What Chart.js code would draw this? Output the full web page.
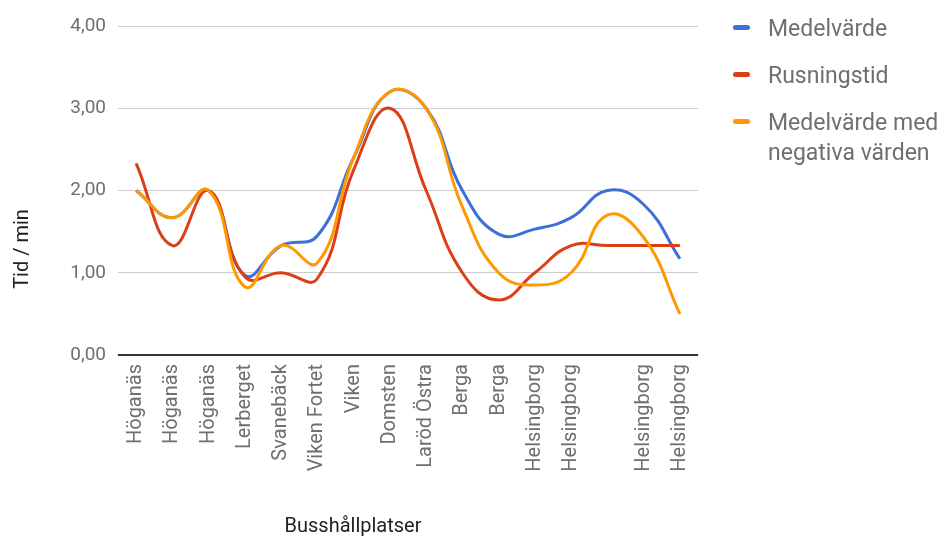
<!DOCTYPE html>
<html><head><meta charset="utf-8">
<script src="https://cdn.jsdelivr.net/npm/chart.js@4"></script>
<style>
html,body{margin:0;padding:0;background:#fff;overflow:hidden;}
#wrap{position:relative;width:947px;height:539px;overflow:hidden;font-family:Roboto,"Noto Sans",sans-serif;}
canvas{position:absolute;left:0;top:0;}
.leg{position:absolute;left:733px;font-size:23px;color:#6f6f6f;line-height:30px;}
.leg .m{position:absolute;left:0;width:17px;height:5px;border-radius:3px;}
.leg .t{position:absolute;left:35px;white-space:nowrap;}
</style></head>
<body><div id="wrap"><canvas id="c" width="947" height="539"></canvas>
<div class="leg" style="top:14px"><div class="m" style="top:11px;background:#3c70d6"></div><div class="t">Medelvärde</div></div>
<div class="leg" style="top:61px"><div class="m" style="top:11px;background:#dc3f17"></div><div class="t">Rusningstid</div></div>
<div class="leg" style="top:108px"><div class="m" style="top:11px;background:#ff9900"></div><div class="t">Medelvärde med<br>negativa värden</div></div>
</div>
<script>
const categories = ["Höganäs","Höganäs","Höganäs","Lerberget","Svanebäck","Viken Fortet","Viken","Domsten","Laröd Östra","Berga","Berga","Helsingborg","Helsingborg","","Helsingborg","Helsingborg"];
const medelvarde = [2.0,1.67,2.0,0.97,1.33,1.45,2.4,3.2,3.0,2.0,1.47,1.53,1.67,2.0,1.83,1.17];
const rusningstid = [2.33,1.33,2.0,0.95,1.0,0.93,2.25,3.0,2.0,1.0,0.67,1.0,1.33,1.33,1.33,1.33];
const medelNegativa = [2.0,1.67,2.0,0.83,1.33,1.12,2.4,3.2,3.0,1.8,1.0,0.85,1.0,1.7,1.43,0.5];
const yTicks = [0,1,2,3,4];
const xTitle = "Busshållplatser";
const yTitle = "Tid / min";

const titles = {
  id:'titles',
  afterDraw(chart){
    const ctx = chart.ctx;
    ctx.save();
    ctx.fillStyle = '#222';
    ctx.font = '20px Roboto';
    ctx.textAlign = 'center';
    ctx.textBaseline = 'middle';
    ctx.fillText(xTitle, 353, 527);
    ctx.translate(23, 249);
    ctx.rotate(-Math.PI/2);
    ctx.fillText(yTitle, 0, 0);
    ctx.restore();
  }
};

new Chart(document.getElementById('c'), {
  type:'line',
  data:{labels:categories, datasets:[
    {label:'Medelvärde', data:medelvarde, borderColor:'#3c70d6', order:2},
    {label:'Rusningstid', data:rusningstid, borderColor:'#dc3f17', order:1},
    {label:'Medelvärde med negativa värden', data:medelNegativa, borderColor:'#ff9900', order:0}
  ]},
  options:{
    responsive:false, animation:false,
    layout:{padding:{left:0,top:26,right:249,bottom:0}},
    elements:{line:{borderWidth:3,tension:0.45,cubicInterpolationMode:'default'},point:{radius:0}},
    plugins:{legend:{display:false},tooltip:{enabled:false}},
    scales:{
      x:{offset:true,
        grid:{display:false,drawTicks:false},
        border:{display:false},
        ticks:{autoSkip:false,maxRotation:90,minRotation:90,padding:9,color:'#6f6f6f',font:{family:'Roboto',size:20}},
        afterFit(s){s.height=184;}
      },
      y:{min:0,max:4,
        afterBuildTicks(s){s.ticks=yTicks.map(v=>({value:v}));},
        grid:{color:(c)=>c.tick.value===0?'#333':'#cccccc',lineWidth:(c)=>c.tick.value===0?2:1,drawTicks:false},
        border:{display:false},
        ticks:{padding:12,color:'#6f6f6f',font:{family:'Roboto',size:19},callback:(v)=>v.toFixed(2).replace('.',',')},
        afterFit(s){s.width=118;}
      }
    }
  },
  plugins:[titles]
});
</script></body></html>
